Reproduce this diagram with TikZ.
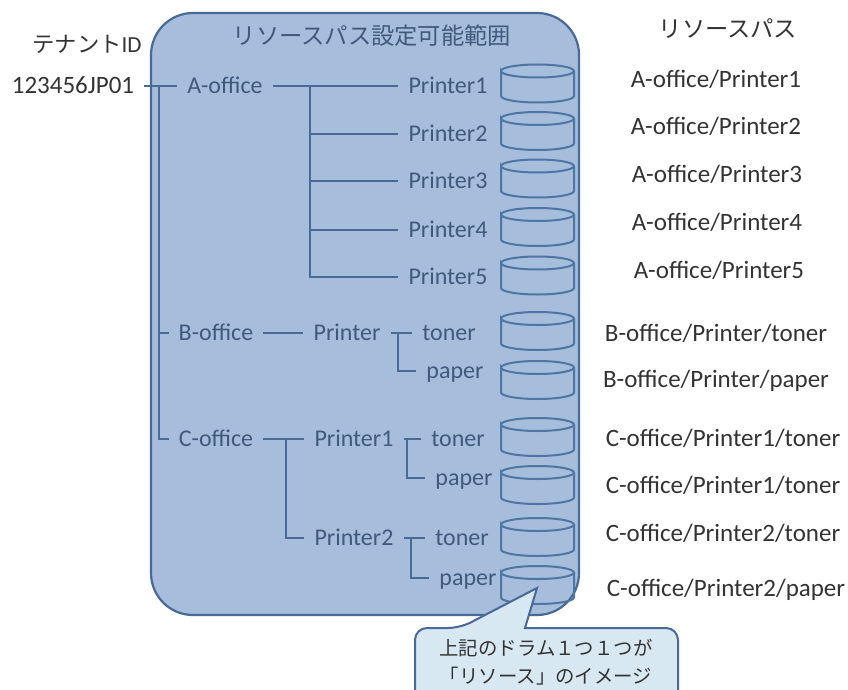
\documentclass[tikz,border=0pt]{standalone}
\usepackage{fontspec}
\setmainfont{Carlito}
\newfontfamily\cjk{Noto Sans CJK JP}[Scale=0.97]
\definecolor{boxfill}{HTML}{A6BDDB}
\definecolor{boxline}{HTML}{476A96}
\definecolor{drumline}{HTML}{4E75A3}
\definecolor{treetext}{HTML}{3F5A7C}
\definecolor{outtext}{HTML}{333333}
\definecolor{notefill}{HTML}{D8E8F2}
\tikzset{
  treelabel/.style={text=treetext,inner xsep=10pt,inner ysep=0pt,text height=19pt,text depth=4pt,font=\fontsize{24}{26}\selectfont},
  outlabel/.style={text=outtext,inner sep=0pt,font=\fontsize{25}{26}\selectfont},
  treeline/.style={draw=boxline,line width=1.6pt},
  drum/.style={draw=drumline,line width=2pt}
}
\begin{document}
\begin{tikzpicture}[x=1pt,y=-1pt]
\useasboundingbox (0,0) rectangle (848,690);
\clip (0,0) rectangle (848,690);

% range of the paths
\draw[draw=boxline,fill=boxfill,line width=2.2pt,rounded corners=42pt] (151,13) rectangle (579,615);
\node[treelabel] (rangetitle) at (372,37) {\cjk リソースパス設定可能範囲};
\node[outlabel,font=\fontsize{23}{26}\selectfont] (tenantid) at (87,44) {\cjk テナント\rmfamily ID};
\node[outlabel,font=\fontsize{24}{26}\selectfont] (pathtitle) at (728,29) {\cjk リソースパス};

\node[treelabel,text=outtext,font=\fontsize{25}{26}\selectfont] (tenantno) at (73,86) {123456JP01};
\node[treelabel] (aoffice) at (225,86) {A-office};
\node[treelabel] (boffice) at (216,333) {B-office};
\node[treelabel] (coffice) at (216,439) {C-office};
\coordinate (tenantjoin) at (159,86);
\draw[treeline] (tenantno.east) -- (aoffice.west);
\draw[treeline] (tenantjoin) |- (boffice.west);
\draw[treeline] (tenantjoin) |- (coffice.west);

% A-office
\coordinate (ajoin) at (310,86);
\foreach \i/\y in {1/86,2/134,3/181,4/230,5/277} {
  \node[treelabel] (aprinter\i) at (448,\y) {Printer\i};
  \draw[treeline] (ajoin) |- (aprinter\i.west);
}
\draw[treeline] (aoffice.east) -- (ajoin);

% B-office
\node[treelabel] (bprinter) at (347,333) {Printer};
\node[treelabel] (btoner) at (449,333) {toner};
\node[treelabel] (bpaper) at (455,371) {paper};
\coordinate (bjoin) at (398,333);
\draw[treeline] (boffice.east) -- (bprinter.west);
\draw[treeline] (bprinter.east) -- (btoner.west);
\draw[treeline] (bjoin) |- (bpaper.west);

% C-office
\node[treelabel] (cprinter1) at (354,439) {Printer1};
\node[treelabel] (cprinter2) at (354,538) {Printer2};
\node[treelabel] (ctoner1) at (458,439) {toner};
\node[treelabel] (cpaper1) at (464,478) {paper};
\node[treelabel] (ctoner2) at (462,538) {toner};
\node[treelabel] (cpaper2) at (468,578) {paper};
\coordinate (cjoin) at (286,439);
\coordinate (cjoinA) at (407,439);
\coordinate (cjoinB) at (411,538);
\draw[treeline] (coffice.east) -- (cprinter1.west);
\draw[treeline] (cjoin) |- (cprinter2.west);
\draw[treeline] (cprinter1.east) -- (ctoner1.west);
\draw[treeline] (cjoinA) |- (cpaper1.west);
\draw[treeline] (cprinter2.east) -- (ctoner2.west);
\draw[treeline] (cjoinB) |- (cpaper2.west);

% drums
\foreach \i/\y in {1/71,2/118.5,3/166,4/214.5,5/263,6/318.5,7/367.5,8/424.5,9/472.5,10/524.5,11/572.5} {
  \coordinate (res\i) at (501,\y);
  \draw[drum] (res\i) arc (180:-180:36.5pt and 6.5pt) -- ++(0,25) arc (180:360:36.5pt and 6.5pt) -- ++(0,-25);
}

% paths on the right
\foreach \i/\x/\y/\t in {1/716/79/{A-office/Printer1},2/716/126/{A-office/Printer2},3/717/174/{A-office/Printer3},
    4/717/222/{A-office/Printer4},5/719/270/{A-office/Printer5},6/716/333/{B-office/Printer/toner},
    7/716/381/{B-office/Printer/paper},8/723/438/{C-office/Printer1/toner},9/723/485/{C-office/Printer1/toner},
    10/723/533/{C-office/Printer2/toner},11/726/590/{C-office/Printer2/paper}} {
  \node[outlabel] (path\i) at (\x,\y) {\t};
}

% note
\draw[draw=boxline,fill=notefill,line width=2pt,rounded corners=12pt] (415,740) -- (415,628) -- (460,628)
  [sharp corners] -- (537,588) -- (525,628) [rounded corners=12pt] -- (678,628) -- (678,740) -- cycle;
\node[align=center,text=outtext,inner sep=0pt,font=\fontsize{20}{28}\selectfont\cjk] (note) at (546,662) {上記のドラム１つ１つが\\「リソース」のイメージ};
\end{tikzpicture}
\end{document}
